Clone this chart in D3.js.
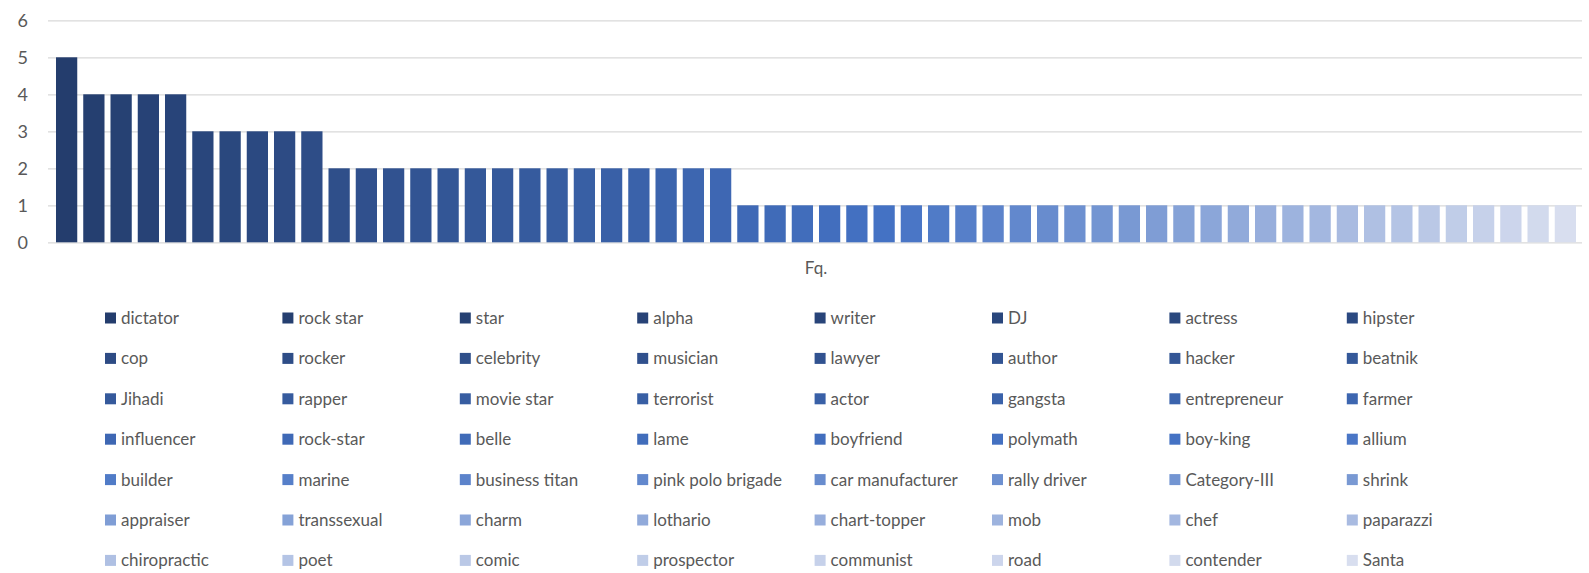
<!DOCTYPE html>
<html>
<head>
<meta charset="utf-8">
<script src="https://cdn.jsdelivr.net/npm/d3@7"></script>
<style>
  body { margin: 0; background: #fff; }
  svg { display: block; font-family: Lato, "Open Sans", sans-serif; }
</style>
</head>
<body>
<script>
// words and their frequencies, in chart order
const categories = [
  'dictator', 'rock star', 'star', 'alpha', 'writer', 'DJ', 'actress', 'hipster',
  'cop', 'rocker', 'celebrity', 'musician', 'lawyer', 'author', 'hacker', 'beatnik',
  'Jihadi', 'rapper', 'movie star', 'terrorist', 'actor', 'gangsta', 'entrepreneur', 'farmer',
  'influencer', 'rock-star', 'belle', 'lame', 'boyfriend', 'polymath', 'boy-king', 'allium',
  'builder', 'marine', 'business titan', 'pink polo brigade', 'car manufacturer', 'rally driver', 'Category-III', 'shrink',
  'appraiser', 'transsexual', 'charm', 'lothario', 'chart-topper', 'mob', 'chef', 'paparazzi',
  'chiropractic', 'poet', 'comic', 'prospector', 'communist', 'road', 'contender', 'Santa'
]
const values = [
  5, 4, 4, 4, 4, 3, 3, 3, 3, 3,
  2, 2, 2, 2, 2, 2, 2, 2, 2, 2, 2, 2, 2, 2, 2,
  1, 1, 1, 1, 1, 1, 1, 1, 1, 1, 1, 1, 1, 1, 1, 1,
  1, 1, 1, 1, 1, 1, 1, 1, 1, 1, 1, 1, 1, 1, 1
]
const yTicks = [0, 1, 2, 3, 4, 5, 6]
const axisTitle = 'Fq.'

const w = 1589
const h = 573
const textColor = '#595959'

const svg = d3.select('body').append('svg')
  .attr('width', w)
  .attr('height', h)

const xScale = d3.scaleBand()
  .domain(categories)
  .range([50, 1582])
  .padding(0.22)

const yScale = d3.scaleLinear()
  .domain([0, 6])
  .range([242.3, 20.3])

// dark navy -> accent blue -> pale lavender, like the monochrome palette
const colorScale = d3.scaleLinear()
  .domain([0, 30, categories.length - 1])
  .range(['#243d6d', '#4472c4', '#d8deef'])
  .interpolate(d3.interpolateRgb)

// gridlines + labels
const yAxis = d3.axisLeft(yScale)
  .tickValues(yTicks)
  .tickFormat(d3.format('d'))
  .tickSize(-(1582 - 48))
  .tickPadding(20)

const gy = svg.append('g')
  .attr('class', 'y-axis')
  .attr('transform', 'translate(48, 0)')
  .call(yAxis)
  .attr('font-family', null)

gy.select('.domain').remove()
gy.selectAll('.tick line').attr('stroke', '#d9d9d9').attr('stroke-width', 1.3)
gy.selectAll('.tick text')
  .attr('fill', textColor)
  .attr('font-size', '18px')

svg.selectAll('rect.bar')
  .data(values)
  .enter()
  .append('rect')
  .attr('class', 'bar')
  .attr('x', (d, i) => xScale(categories[i]))
  .attr('y', d => yScale(d))
  .attr('width', xScale.bandwidth())
  .attr('height', d => yScale(0) - yScale(d))
  .attr('fill', (d, i) => colorScale(i))

svg.append('text')
  .attr('x', (50 + 1582) / 2)
  .attr('y', 274)
  .attr('text-anchor', 'middle')
  .attr('fill', textColor)
  .attr('font-size', '17px')
  .text(axisTitle)

// legend, 8 columns
const cols = 8
const legend = svg.append('g').attr('class', 'legend')
const item = legend.selectAll('g')
  .data(categories)
  .enter()
  .append('g')
  .attr('transform', (d, i) => 'translate(' + (105 + (i % cols) * 177.4) + ',' + (318 + Math.floor(i / cols) * 40.4) + ')')

item.append('rect')
  .attr('x', 0)
  .attr('y', -5.5)
  .attr('width', 11)
  .attr('height', 11)
  .attr('fill', (d, i) => colorScale(i))

item.append('text')
  .attr('x', 16)
  .attr('dy', '0.35em')
  .attr('fill', textColor)
  .attr('font-size', '17px')
  .text(d => d)
</script>
</body>
</html>
